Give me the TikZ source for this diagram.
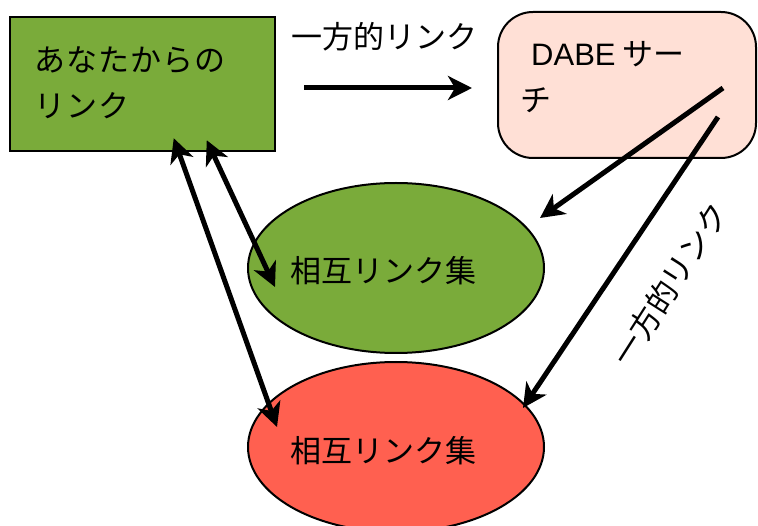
\documentclass[tikz,border=0pt]{standalone}
\usepackage{fontspec}
\setmainfont{Noto Sans CJK JP}
\newfontfamily\latinfont{Liberation Sans}
\usetikzlibrary{arrows.meta,shapes.geometric,calc}
\definecolor{boxgreen}{RGB}{122,171,58}
\definecolor{dabepink}{RGB}{255,224,214}
\definecolor{setred}{RGB}{255,96,80}
\begin{document}
\begin{tikzpicture}[x=1pt,y=-1pt,
  >={Stealth[length=24pt,width=24pt,inset=7pt]},
  lbl/.style={inner sep=0pt,font=\fontsize{31}{46}\selectfont},
  youbox/.style={draw,line width=2.5pt,fill=boxgreen,rectangle,minimum width=265pt,minimum height=134pt,inner sep=0pt},
  dabebox/.style={draw,line width=2pt,fill=dabepink,rectangle,rounded corners=35pt,minimum width=258pt,minimum height=146pt,inner sep=0pt},
  setell/.style={draw,line width=2pt,ellipse,minimum width=296pt,minimum height=170pt,inner sep=0pt},
  arr/.style={line width=5pt}
]
\useasboundingbox (0,0) rectangle (758,526);
% shapes
\node[youbox] (you) at (142.5,84) {};
\node[dabebox] (dabe) at (627,85) {};
\node[setell,fill=boxgreen] (mutualA) at (396,268) {};
\node[setell,fill=setred] (mutualB) at (396,447) {};
% texts
\node[lbl,align=left,anchor=west] (youtxt) at (34,83) {あ\kern1ptな\kern1ptた\kern1ptか\kern1ptら\kern1ptの\\リ\kern1ptン\kern1ptク};
\node[lbl,align=left,anchor=west] (dabetxt) at (520,77) {\hspace{11pt}{\latinfont DABE} サー\\チ};
\node[lbl] (mutualAtxt) at (383.5,271) {相互リンク集};
\node[lbl] (mutualBtxt) at (383.5,451) {相互リンク集};
\node[lbl] (onewaytop) at (384,37) {一方的リンク};
\node[lbl,rotate=57.5] (onewayside) at (670,284) {一方的リンク};
% connectors
\draw[arr,->] ([shift={(28,4)}]you.east) -- ([shift={(-25,3)}]dabe.west);
\draw[arr,->] ([shift={(96,3)}]dabe.center) -- ([shift={(144,-50)}]mutualA.center);
\draw[arr,->] ([shift={(91,32)}]dabe.center) -- ([shift={(127,-39)}]mutualB.center);
\draw[arr,<->] ([shift={(198,-12)}]you.south west) -- ([shift={(-121,19)}]mutualA.center);
\draw[arr,<->] ([shift={(165,-14)}]you.south west) -- ([shift={(-119,-20)}]mutualB.center);
\end{tikzpicture}
\end{document}
